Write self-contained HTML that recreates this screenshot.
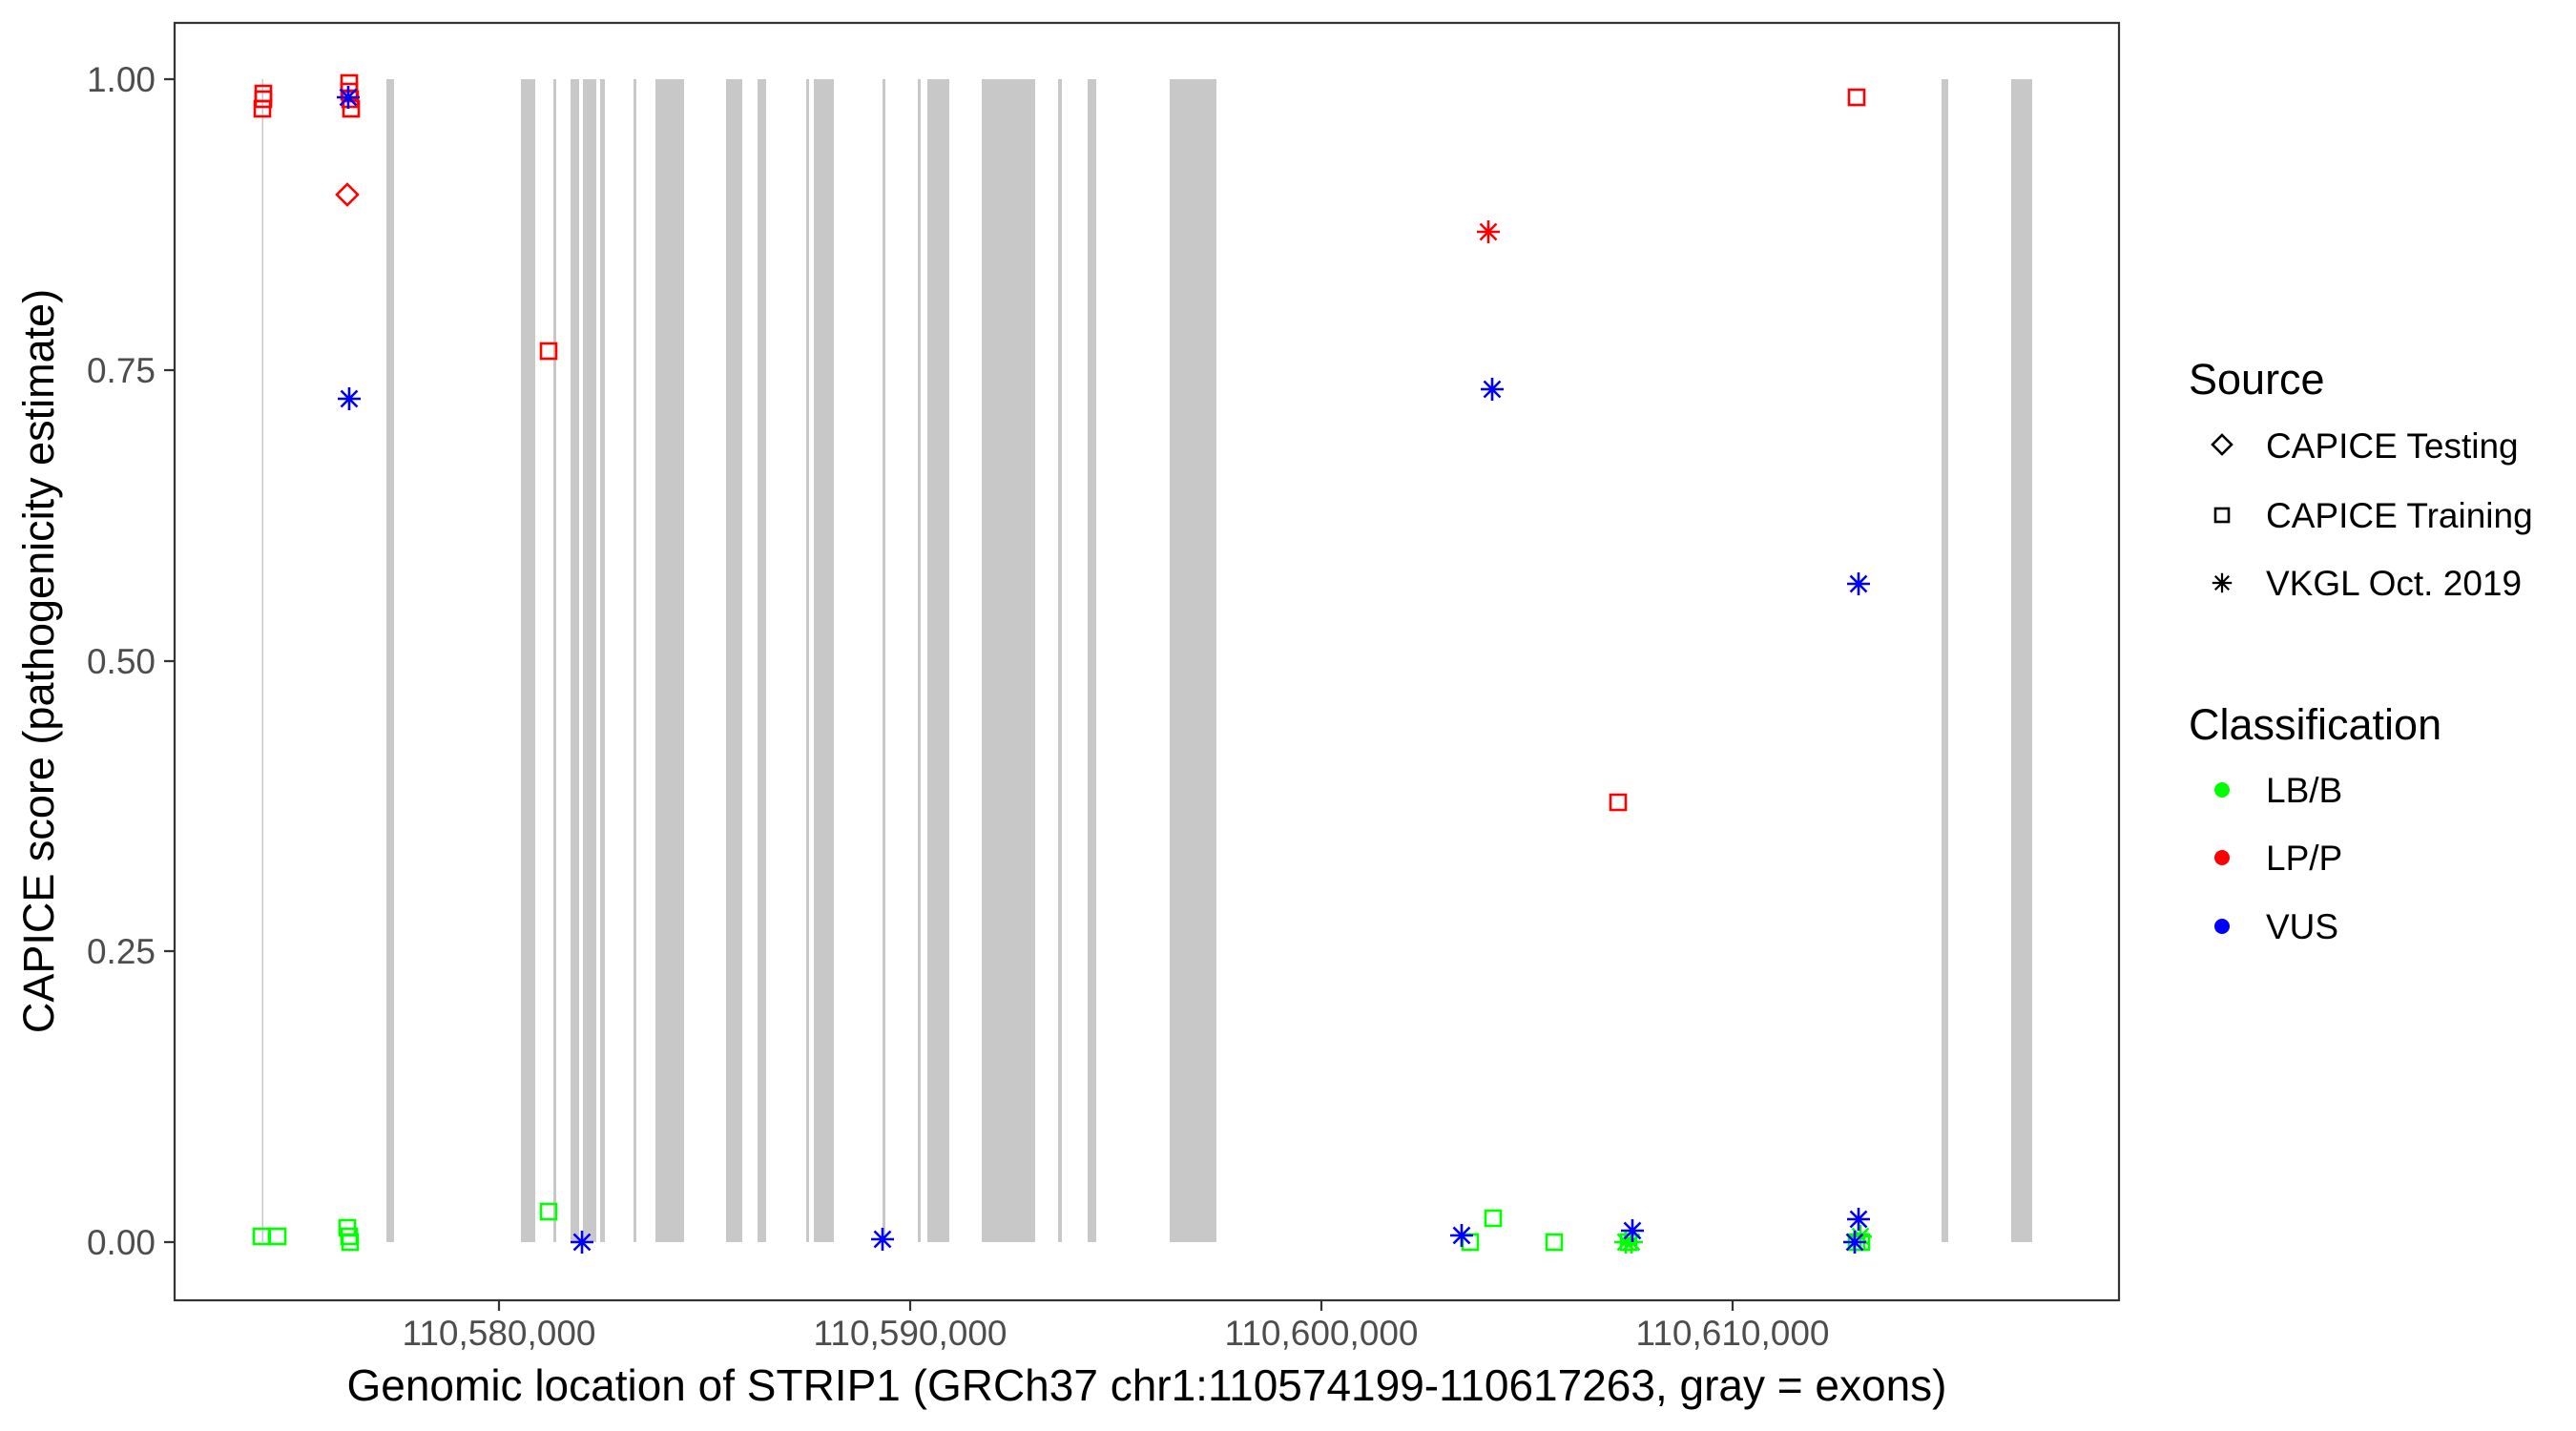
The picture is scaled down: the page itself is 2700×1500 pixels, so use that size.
<!DOCTYPE html>
<html><head><meta charset="utf-8"><style>body{margin:0;background:#fff}svg{display:block}</style></head>
<body>
<svg width="2700" height="1500" xmlns="http://www.w3.org/2000/svg" font-family="Liberation Sans, Arial, sans-serif">
<defs>
<g id="sq"><rect x="-8" y="-8" width="16" height="16" fill="none" stroke-width="2.6"/></g>
<g id="ast"><path d="M-12 0H12M0 -12V12M-8.5 -8.5L8.5 8.5M-8.5 8.5L8.5 -8.5" stroke-width="2.6" fill="none"/></g>
<g id="dia"><path d="M0 -11L11 0L0 11L-11 0Z" fill="none" stroke-width="2.6"/></g>
</defs>
<rect width="2700" height="1500" fill="#fff"/>
<g fill="#c8c8c8">
<rect x="274.5" y="83" width="1.5" height="1219"/>
<rect x="405" y="83" width="8" height="1219"/>
<rect x="546" y="83" width="15" height="1219"/>
<rect x="580" y="83" width="3" height="1219"/>
<rect x="598" y="83" width="9" height="1219"/>
<rect x="611" y="83" width="14" height="1219"/>
<rect x="629" y="83" width="5" height="1219"/>
<rect x="664" y="83" width="3" height="1219"/>
<rect x="687" y="83" width="30" height="1219"/>
<rect x="761" y="83" width="17" height="1219"/>
<rect x="794" y="83" width="9" height="1219"/>
<rect x="845" y="83" width="3" height="1219"/>
<rect x="853" y="83" width="21" height="1219"/>
<rect x="925" y="83" width="3" height="1219"/>
<rect x="962" y="83" width="3" height="1219"/>
<rect x="972" y="83" width="23" height="1219"/>
<rect x="1029" y="83" width="56" height="1219"/>
<rect x="1109" y="83" width="4" height="1219"/>
<rect x="1140" y="83" width="9" height="1219"/>
<rect x="1226" y="83" width="49" height="1219"/>
<rect x="2035" y="83" width="7" height="1219"/>
<rect x="2108" y="83" width="22" height="1219"/>
</g>
<g stroke="#ff0000">
<use href="#sq" x="276" y="98"/><use href="#sq" x="276" y="104"/><use href="#sq" x="275" y="114"/>
<use href="#sq" x="366" y="87"/><use href="#sq" x="366" y="96"/><use href="#sq" x="367" y="104"/><use href="#sq" x="368" y="114"/>
<use href="#dia" x="364" y="204"/>
<use href="#sq" x="575" y="368"/>
<use href="#ast" x="1560" y="243"/>
<use href="#sq" x="1696" y="841"/>
<use href="#sq" x="1946" y="102"/>
</g>
<g stroke="#00ff00">
<use href="#sq" x="274" y="1296"/><use href="#sq" x="291" y="1296"/>
<use href="#sq" x="364" y="1287"/><use href="#sq" x="366" y="1296"/><use href="#sq" x="367" y="1302"/>
<use href="#sq" x="575" y="1270"/>
<use href="#sq" x="1541" y="1302"/><use href="#sq" x="1565" y="1277"/><use href="#sq" x="1629" y="1302"/>
<use href="#ast" x="1704" y="1302"/><use href="#ast" x="1710" y="1302"/><use href="#sq" x="1707" y="1302"/>
<use href="#sq" x="1946" y="1302"/><use href="#sq" x="1951" y="1302"/><use href="#ast" x="1950" y="1296"/>
</g>
<g stroke="#0000ff">
<use href="#ast" x="365" y="102"/>
<use href="#ast" x="366" y="418"/>
<use href="#ast" x="610" y="1302"/>
<use href="#ast" x="925" y="1299"/>
<use href="#ast" x="1532" y="1295"/>
<use href="#ast" x="1564" y="408"/>
<use href="#ast" x="1711" y="1290"/>
<use href="#ast" x="1948" y="612"/>
<use href="#ast" x="1948" y="1278"/>
<use href="#ast" x="1944" y="1302"/>
</g>
<rect x="183" y="24" width="2038" height="1339" fill="none" stroke="#333" stroke-width="2.2"/>
<g stroke="#333" stroke-width="2.2">
<path d="M172 83H183M172 388H183M172 693H183M172 997H183M172 1302H183"/>
<path d="M523 1363V1374M954 1363V1374M1385 1363V1374M1816 1363V1374"/>
</g>
<g fill="#4d4d4d" font-size="37" text-anchor="end">
<text x="163" y="96">1.00</text>
<text x="163" y="401">0.75</text>
<text x="163" y="706">0.50</text>
<text x="163" y="1010">0.25</text>
<text x="163" y="1315">0.00</text>
</g>
<g fill="#4d4d4d" font-size="37" text-anchor="middle">
<text x="523" y="1410">110,580,000</text>
<text x="954" y="1410">110,590,000</text>
<text x="1385" y="1410">110,600,000</text>
<text x="1816" y="1410">110,610,000</text>
</g>
<text x="1202" y="1468" font-size="46" text-anchor="middle">Genomic location of STRIP1 (GRCh37 chr1:110574199-110617263, gray = exons)</text>
<text transform="translate(56,693) rotate(-90)" font-size="45" text-anchor="middle">CAPICE score (pathogenicity estimate)</text>
<text x="2294" y="413" font-size="45">Source</text>
<g font-size="37">
<text x="2375" y="480">CAPICE Testing</text>
<text x="2375" y="553">CAPICE Training</text>
<text x="2375" y="624">VKGL Oct. 2019</text>
</g>
<g stroke="#000">
<path d="M2329 456L2339 466L2329 476L2319 466Z" fill="none" stroke-width="2.6"/>
<rect x="2322" y="533" width="14" height="14" fill="none" stroke-width="2.6"/>
<use href="#ast" transform="translate(2329,611) scale(0.85)"/>
</g>
<text x="2294" y="775" font-size="45">Classification</text>
<g font-size="37">
<text x="2375" y="841">LB/B</text>
<text x="2375" y="912">LP/P</text>
<text x="2375" y="984">VUS</text>
</g>
<circle cx="2329" cy="828" r="8" fill="#00ff00"/>
<circle cx="2329" cy="899" r="8" fill="#ff0000"/>
<circle cx="2329" cy="971" r="8" fill="#0000ff"/>
</svg>
</body></html>
